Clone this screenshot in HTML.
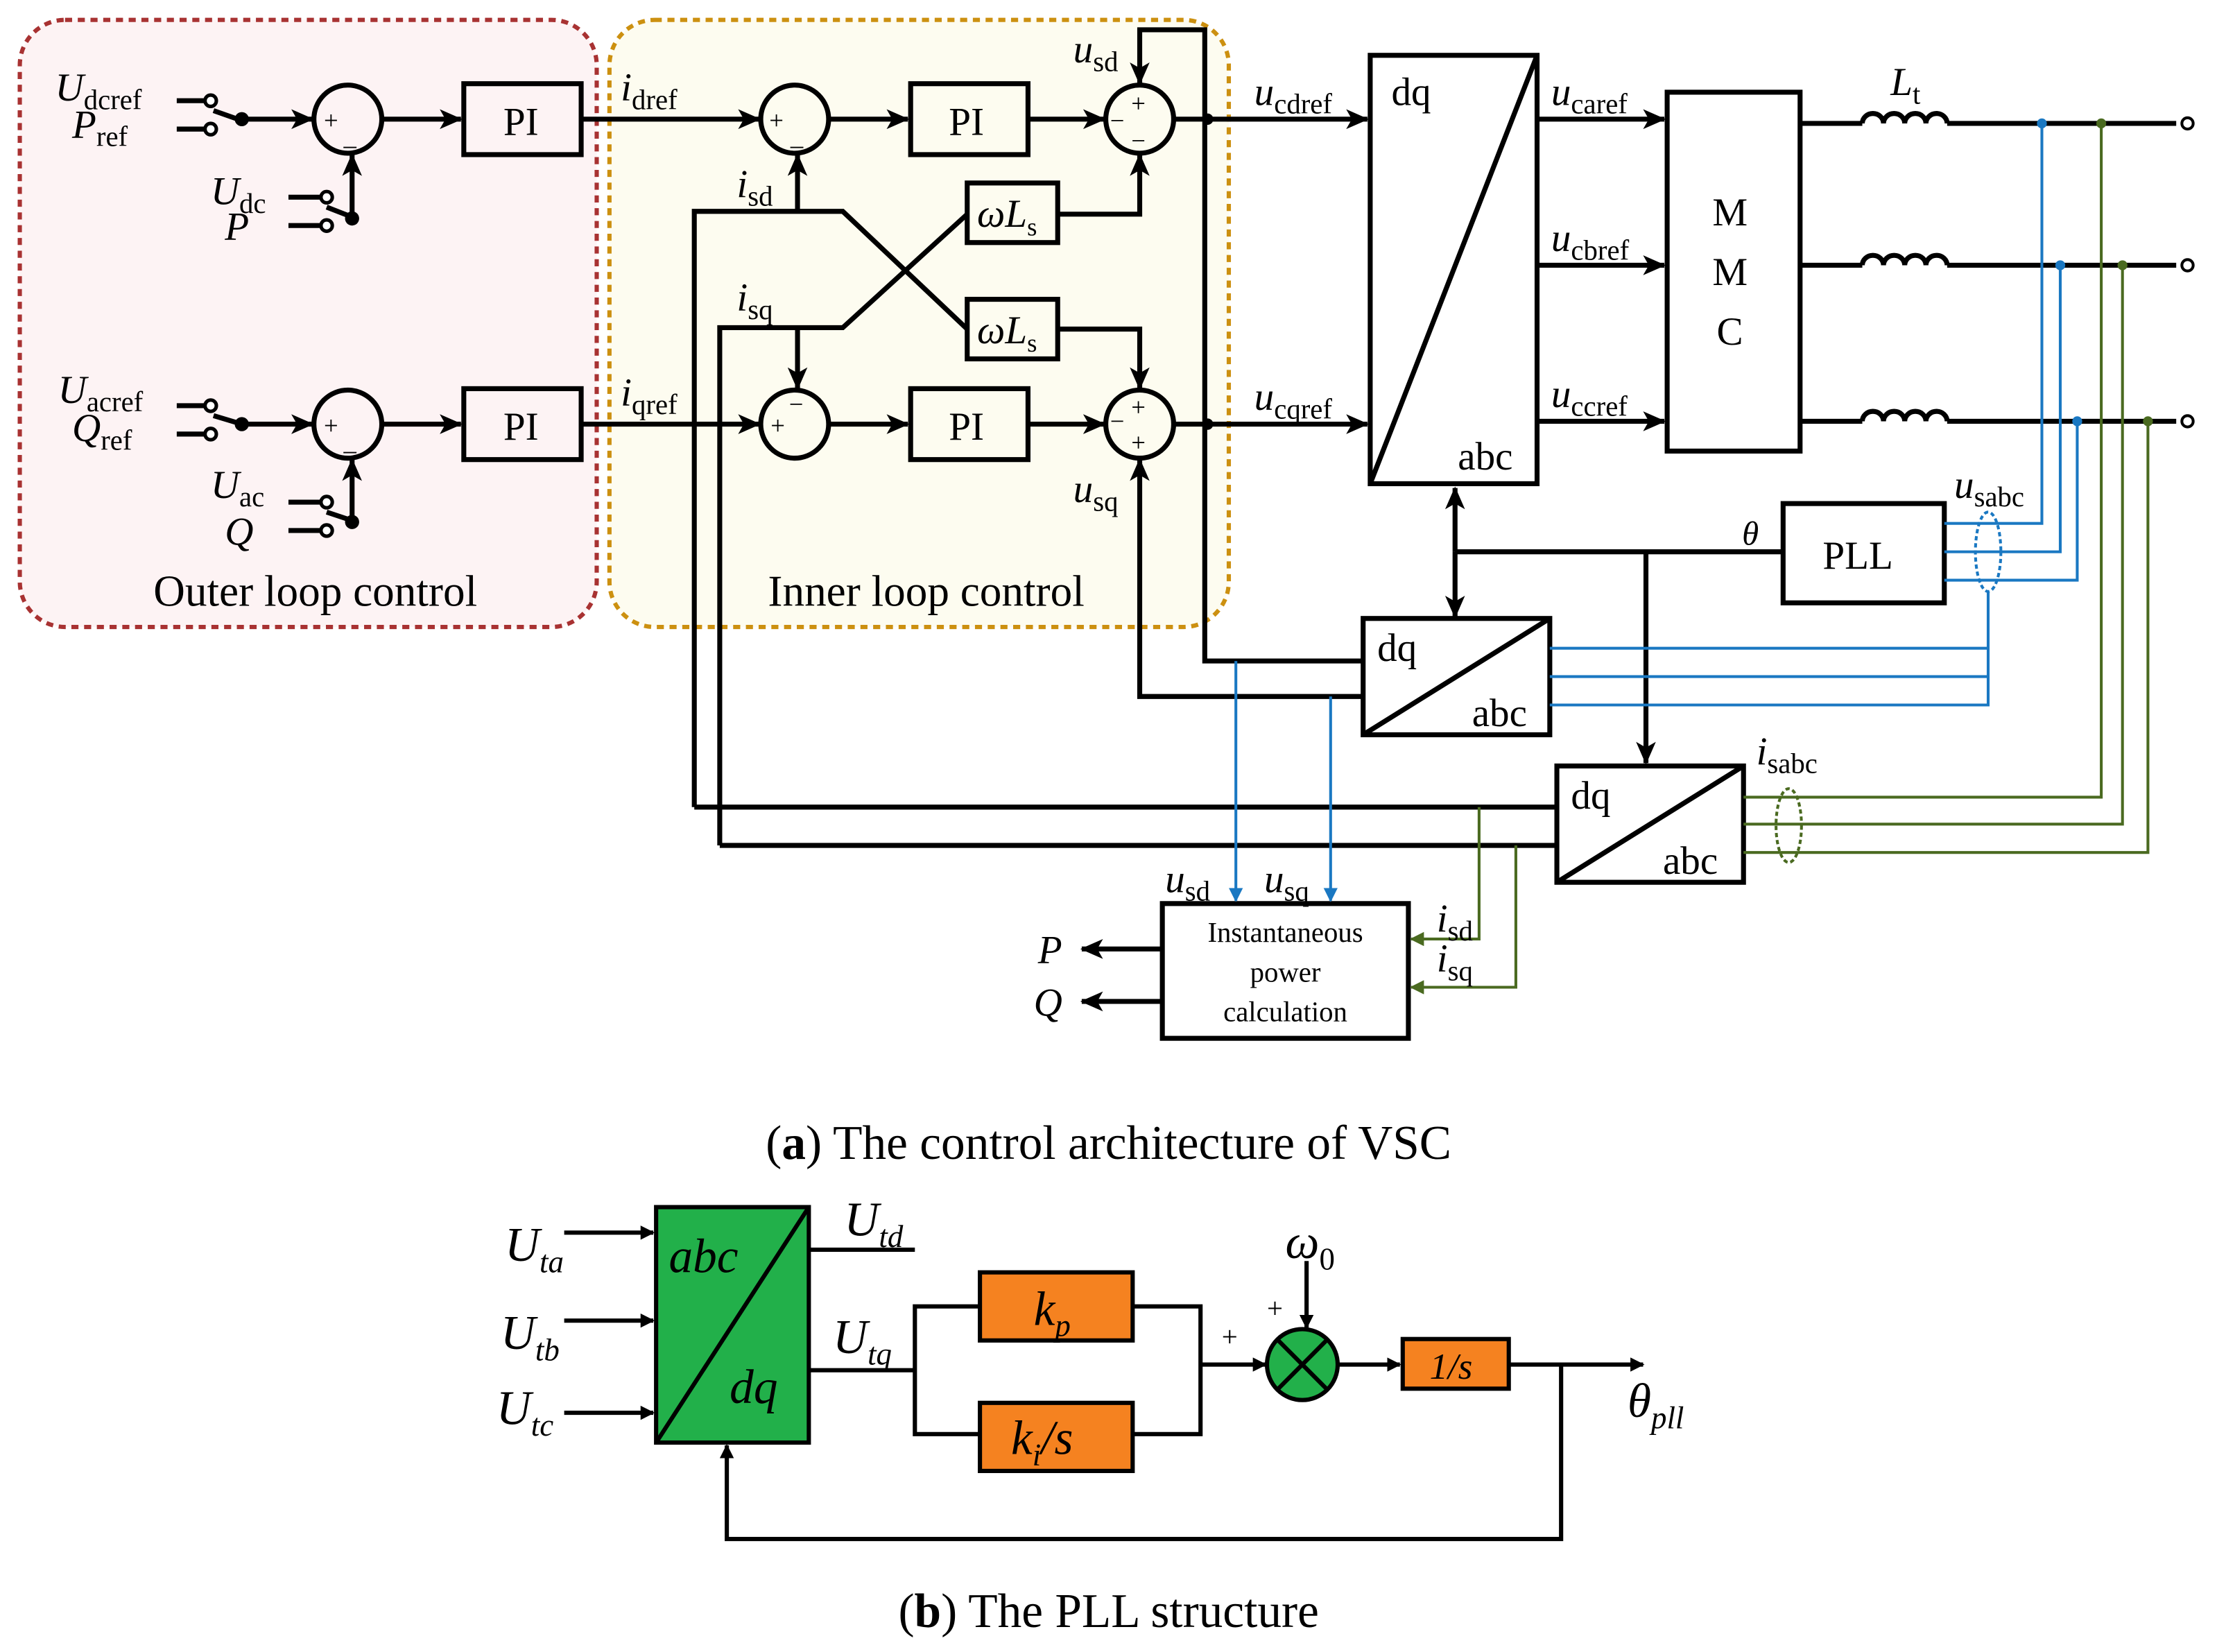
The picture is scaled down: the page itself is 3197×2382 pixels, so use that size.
<!DOCTYPE html>
<html><head><meta charset="utf-8"><style>
html,body{margin:0;padding:0;background:#fff;}
svg{display:block;}
text{font-family:"Liberation Serif",serif;fill:#000;}
.it{font-style:italic;}
</style></head><body>
<svg width="3197" height="2382" viewBox="0 0 1560 1162.3" xmlns="http://www.w3.org/2000/svg">
<defs>
<marker id="a" markerWidth="10" markerHeight="10" refX="9" refY="5" orient="auto" markerUnits="userSpaceOnUse" viewBox="0 0 10 10"><path d="M0,0 L10,5 L0,10 Z" fill="#000"/></marker>
<marker id="ab" markerWidth="16" markerHeight="14" refX="15" refY="7" orient="auto" markerUnits="userSpaceOnUse" viewBox="0 0 16 14"><path d="M0,0 L16,7 L0,14 L4,7 Z" fill="#000"/></marker>
<marker id="bl" markerWidth="10" markerHeight="10" refX="9" refY="5" orient="auto" markerUnits="userSpaceOnUse" viewBox="0 0 10 10"><path d="M0,0 L10,5 L0,10 Z" fill="#1a78c2"/></marker>
<marker id="gr" markerWidth="10" markerHeight="10" refX="9" refY="5" orient="auto" markerUnits="userSpaceOnUse" viewBox="0 0 10 10"><path d="M0,0 L10,5 L0,10 Z" fill="#4a6a20"/></marker>
</defs>
<g transform="translate(-1,-1) scale(0.995,0.998)">

<rect x="15" y="15" width="408" height="428" rx="32" fill="#fdf3f4" stroke="#a83232" stroke-width="3" stroke-dasharray="5,4"/>
<rect x="432" y="15" width="438" height="428" rx="32" fill="#fdfcf0" stroke="#cc9010" stroke-width="3" stroke-dasharray="5,4"/>

<g stroke="#000" stroke-width="3.5" fill="none">
<line x1="126" y1="72" x2="148" y2="72"/><line x1="126" y1="92" x2="148" y2="92"/>
<line x1="152" y1="79" x2="172" y2="86"/>
<line x1="172" y1="85" x2="222" y2="85" marker-end="url(#ab)"/>
<circle cx="247" cy="85" r="24"/>
<line x1="205" y1="140" x2="228" y2="140"/><line x1="205" y1="160" x2="228" y2="160"/>
<line x1="232" y1="147" x2="250" y2="154"/>
<line x1="250" y1="155" x2="250" y2="110" marker-end="url(#ab)"/>
<line x1="271" y1="85" x2="327" y2="85" marker-end="url(#ab)"/>
<rect x="329" y="60" width="83" height="50"/>
<line x1="412" y1="85" x2="538" y2="85" marker-end="url(#ab)"/>
<circle cx="563" cy="85" r="24"/>
<line x1="587" y1="85" x2="643" y2="85" marker-end="url(#ab)"/>
<rect x="645" y="60" width="83" height="50"/>
<line x1="728" y1="85" x2="782" y2="85" marker-end="url(#ab)"/>
<circle cx="807" cy="85" r="24"/>
<line x1="831" y1="85" x2="968" y2="85" marker-end="url(#ab)"/>
<line x1="126" y1="287" x2="148" y2="287"/><line x1="126" y1="307" x2="148" y2="307"/>
<line x1="152" y1="294" x2="172" y2="300"/>
<line x1="172" y1="300" x2="222" y2="300" marker-end="url(#ab)"/>
<circle cx="247" cy="300" r="24"/>
<line x1="205" y1="355" x2="228" y2="355"/><line x1="205" y1="375" x2="228" y2="375"/>
<line x1="232" y1="362" x2="250" y2="368"/>
<line x1="250" y1="369" x2="250" y2="325" marker-end="url(#ab)"/>
<line x1="271" y1="300" x2="327" y2="300" marker-end="url(#ab)"/>
<rect x="329" y="275" width="83" height="50"/>
<line x1="412" y1="300" x2="538" y2="300" marker-end="url(#ab)"/>
<circle cx="563" cy="300" r="24"/>
<line x1="587" y1="300" x2="643" y2="300" marker-end="url(#ab)"/>
<rect x="645" y="275" width="83" height="50"/>
<line x1="728" y1="300" x2="782" y2="300" marker-end="url(#ab)"/>
<circle cx="807" cy="300" r="24"/>
<line x1="831" y1="300" x2="968" y2="300" marker-end="url(#ab)"/>
<rect x="685" y="130" width="64" height="42"/>
<rect x="685" y="212" width="64" height="42"/>
<polyline points="749,152 807,152 807,110" marker-end="url(#ab)"/>
<polyline points="749,233 807,233 807,275" marker-end="url(#ab)"/>
<polyline points="492,570 492,150 597,150 685,233"/>
<polyline points="510,597 510,232 597,232 685,152"/>
<line x1="565" y1="150" x2="565" y2="110" marker-end="url(#ab)"/>
<line x1="565" y1="232" x2="565" y2="275" marker-end="url(#ab)"/>
<polyline points="965,467 853,467 853,22 807,22 807,60" marker-end="url(#ab)"/>
<polyline points="965,492 807,492 807,325" marker-end="url(#ab)"/>
<line x1="492" y1="570" x2="1102" y2="570"/>
<line x1="510" y1="597" x2="1102" y2="597"/>
<rect x="970" y="40" width="118" height="302"/>
<line x1="970" y1="342" x2="1088" y2="40"/>
<line x1="1088" y1="85" x2="1178" y2="85" marker-end="url(#ab)"/>
<line x1="1088" y1="188" x2="1178" y2="188" marker-end="url(#ab)"/>
<line x1="1088" y1="298" x2="1178" y2="298" marker-end="url(#ab)"/>
<rect x="1180" y="66" width="94" height="253"/>
<line x1="1274" y1="88" x2="1318" y2="88"/><line x1="1378" y1="88" x2="1540" y2="88"/>
<line x1="1274" y1="188" x2="1318" y2="188"/><line x1="1378" y1="188" x2="1540" y2="188"/>
<line x1="1274" y1="298" x2="1318" y2="298"/><line x1="1378" y1="298" x2="1540" y2="298"/>
<path d="M1318,88 a7.5,7 0 0 1 15,0 a7.5,7 0 0 1 15,0 a7.5,7 0 0 1 15,0 a7.5,7 0 0 1 15,0"/>
<path d="M1318,188 a7.5,7 0 0 1 15,0 a7.5,7 0 0 1 15,0 a7.5,7 0 0 1 15,0 a7.5,7 0 0 1 15,0"/>
<path d="M1318,298 a7.5,7 0 0 1 15,0 a7.5,7 0 0 1 15,0 a7.5,7 0 0 1 15,0 a7.5,7 0 0 1 15,0"/>
<rect x="1262" y="356" width="114" height="70"/>
<line x1="1262" y1="390" x2="1030" y2="390"/>
<line x1="1030" y1="390" x2="1030" y2="345" marker-end="url(#ab)"/>
<line x1="1030" y1="390" x2="1030" y2="436" marker-end="url(#ab)"/>
<line x1="1165" y1="390" x2="1165" y2="539" marker-end="url(#ab)"/>
<rect x="965" y="437" width="132" height="82"/>
<line x1="965" y1="519" x2="1097" y2="437"/>
<rect x="1102" y="541" width="132" height="82"/>
<line x1="1102" y1="623" x2="1234" y2="541"/>
<rect x="823" y="638" width="174" height="95"/>
<line x1="823" y1="670" x2="766" y2="670" marker-end="url(#ab)"/>
<line x1="823" y1="707" x2="766" y2="707" marker-end="url(#ab)"/>
</g>
<g fill="#000">
<circle cx="150" cy="72" r="4" fill="#fff" stroke="#000" stroke-width="2.5"/><circle cx="150" cy="92" r="4" fill="#fff" stroke="#000" stroke-width="2.5"/>
<circle cx="172" cy="85" r="5"/>
<circle cx="232" cy="140" r="4" fill="#fff" stroke="#000" stroke-width="2.5"/><circle cx="232" cy="160" r="4" fill="#fff" stroke="#000" stroke-width="2.5"/>
<circle cx="250" cy="155" r="5"/>
<circle cx="150" cy="287" r="4" fill="#fff" stroke="#000" stroke-width="2.5"/><circle cx="150" cy="307" r="4" fill="#fff" stroke="#000" stroke-width="2.5"/>
<circle cx="172" cy="300" r="5"/>
<circle cx="232" cy="355" r="4" fill="#fff" stroke="#000" stroke-width="2.5"/><circle cx="232" cy="375" r="4" fill="#fff" stroke="#000" stroke-width="2.5"/>
<circle cx="250" cy="369" r="5"/>
<circle cx="855" cy="85" r="4"/><circle cx="855" cy="300" r="4"/>
<circle cx="1548" cy="88" r="4" fill="#fff" stroke="#000" stroke-width="2"/>
<circle cx="1548" cy="188" r="4" fill="#fff" stroke="#000" stroke-width="2"/>
<circle cx="1548" cy="298" r="4" fill="#fff" stroke="#000" stroke-width="2"/>
</g>
<g stroke="#1a78c2" stroke-width="2" fill="none">
<polyline points="1445,88 1445,370 1376,370"/>
<polyline points="1458,188 1458,390 1376,390"/>
<polyline points="1470,298 1470,410 1376,410"/>
<ellipse cx="1407" cy="390" rx="9" ry="28" stroke-dasharray="3,2"/>
<polyline points="1407,418 1407,498 1097,498"/>
<line x1="1097" y1="458" x2="1407" y2="458"/>
<line x1="1097" y1="478" x2="1407" y2="478"/>
<line x1="875" y1="467" x2="875" y2="636" marker-end="url(#bl)"/>
<line x1="942" y1="492" x2="942" y2="636" marker-end="url(#bl)"/>
</g>
<g fill="#1a78c2"><circle cx="1445" cy="88" r="3.5"/><circle cx="1458" cy="188" r="3.5"/><circle cx="1470" cy="298" r="3.5"/></g>
<g stroke="#4a6a20" stroke-width="2" fill="none">
<polyline points="1487,88 1487,563 1234,563"/>
<polyline points="1502,188 1502,582 1234,582"/>
<polyline points="1520,298 1520,602 1234,602"/>
<ellipse cx="1266" cy="583" rx="9" ry="26" stroke-dasharray="3,2"/>
<polyline points="1047,570 1047,663 999,663" marker-end="url(#gr)"/>
<polyline points="1073,597 1073,697 999,697" marker-end="url(#gr)"/>
</g>
<g fill="#4a6a20"><circle cx="1487" cy="88" r="3.5"/><circle cx="1502" cy="188" r="3.5"/><circle cx="1520" cy="298" r="3.5"/></g>

<g font-size="28">
<text x="40" y="72" class="it">U<tspan font-size="20" font-style="normal" dy="6">dcref</tspan></text>
<text x="52" y="98" class="it">P<tspan font-size="20" font-style="normal" dy="6">ref</tspan></text>
<text x="150" y="145" class="it">U<tspan font-size="20" font-style="normal" dy="6">dc</tspan></text>
<text x="160" y="170" class="it">P</text>
<text x="42" y="285" class="it">U<tspan font-size="20" font-style="normal" dy="6">acref</tspan></text>
<text x="52" y="312" class="it">Q<tspan font-size="20" font-style="normal" dy="6">ref</tspan></text>
<text x="150" y="352" class="it">U<tspan font-size="20" font-style="normal" dy="6">ac</tspan></text>
<text x="160" y="385" class="it">Q</text>
<text x="357" y="96">PI</text><text x="357" y="311">PI</text>
<text x="672" y="96">PI</text><text x="672" y="311">PI</text>
<text x="440" y="72" class="it">i<tspan font-size="20" font-style="normal" dy="6">dref</tspan></text>
<text x="440" y="287" class="it">i<tspan font-size="20" font-style="normal" dy="6">qref</tspan></text>
<text x="522" y="140" class="it">i<tspan font-size="20" font-style="normal" dy="6">sd</tspan></text>
<text x="522" y="220" class="it">i<tspan font-size="20" font-style="normal" dy="6">sq</tspan></text>
<text x="760" y="45" class="it">u<tspan font-size="20" font-style="normal" dy="6">sd</tspan></text>
<text x="760" y="355" class="it">u<tspan font-size="20" font-style="normal" dy="6">sq</tspan></text>
<text x="888" y="75" class="it">u<tspan font-size="20" font-style="normal" dy="6">cdref</tspan></text>
<text x="888" y="290" class="it">u<tspan font-size="20" font-style="normal" dy="6">cqref</tspan></text>
<text x="1098" y="75" class="it">u<tspan font-size="20" font-style="normal" dy="6">caref</tspan></text>
<text x="1098" y="178" class="it">u<tspan font-size="20" font-style="normal" dy="6">cbref</tspan></text>
<text x="1098" y="288" class="it">u<tspan font-size="20" font-style="normal" dy="6">ccref</tspan></text>
<text x="1338" y="68" class="it">L<tspan font-size="20" font-style="normal" dy="6">t</tspan></text>
<text x="1383" y="352" class="it">u<tspan font-size="20" font-style="normal" dy="6">sabc</tspan></text>
<text x="1243" y="540" class="it">i<tspan font-size="20" font-style="normal" dy="6">sabc</tspan></text>
<text x="1233" y="385" class="it" font-size="24">θ</text>
<text x="985" y="75">dq</text><text x="1032" y="332">abc</text>
<text x="1212" y="160">M</text><text x="1212" y="202">M</text><text x="1215" y="244">C</text>
<text x="1290" y="402">PLL</text>
<text x="975" y="467">dq</text><text x="1042" y="513">abc</text>
<text x="1112" y="571">dq</text><text x="1177" y="617">abc</text>
<text x="825" y="630" class="it">u<tspan font-size="20" font-style="normal" dy="6">sd</tspan></text>
<text x="895" y="630" class="it">u<tspan font-size="20" font-style="normal" dy="6">sq</tspan></text>
<text x="1017" y="658" class="it">i<tspan font-size="20" font-style="normal" dy="6">sd</tspan></text>
<text x="1017" y="686" class="it">i<tspan font-size="20" font-style="normal" dy="6">sq</tspan></text>
<text x="735" y="680" class="it">P</text>
<text x="732" y="717" class="it">Q</text>
<text x="692" y="161" class="it">ωL<tspan font-size="18" font-style="normal" dy="6">s</tspan></text>
<text x="692" y="243" class="it">ωL<tspan font-size="18" font-style="normal" dy="6">s</tspan></text>
</g>
<g font-size="18">
<text x="230" y="92">+</text><text x="244" y="103">_</text>
<text x="230" y="307">+</text><text x="244" y="318">_</text>
<text x="545" y="92">+</text><text x="560" y="103">_</text>
<text x="546" y="307">+</text><text x="559" y="292">−</text>
<text x="801" y="80">+</text><text x="786" y="92">−</text><text x="801" y="106">−</text>
<text x="801" y="294">+</text><text x="786" y="304">−</text><text x="801" y="319">+</text>
</g>
<g font-size="20" text-anchor="middle">
<text x="910" y="665">Instantaneous</text><text x="910" y="693">power</text><text x="910" y="721">calculation</text>
</g>
<text x="224" y="428" font-size="31" text-anchor="middle">Outer loop control</text>
<text x="656" y="428" font-size="31" text-anchor="middle">Inner loop control</text>
<text x="785" y="818" font-size="34" text-anchor="middle">(<tspan font-weight="bold">a</tspan>) The control architecture of VSC</text>

<g stroke="#000" stroke-width="3" fill="none">
<rect x="465" y="852" width="108" height="166" fill="#22b04a"/>
<line x1="465" y1="1018" x2="573" y2="852"/>
<line x1="400" y1="870" x2="463" y2="870" marker-end="url(#a)"/>
<line x1="400" y1="932" x2="463" y2="932" marker-end="url(#a)"/>
<line x1="400" y1="997" x2="463" y2="997" marker-end="url(#a)"/>
<line x1="573" y1="882" x2="648" y2="882"/>
<line x1="573" y1="967" x2="648" y2="967"/>
<polyline points="694,922 648,922 648,1012 694,1012"/>
<rect x="694" y="898" width="108" height="48" fill="#f58220"/>
<rect x="694" y="990" width="108" height="48" fill="#f58220"/>
<polyline points="802,922 850,922 850,1012 802,1012"/>
<line x1="850" y1="963" x2="896" y2="963" marker-end="url(#a)"/>
<circle cx="922" cy="963" r="25" fill="#22b04a"/>
<line x1="904" y1="945" x2="940" y2="981"/><line x1="940" y1="945" x2="904" y2="981"/>
<line x1="925" y1="890" x2="925" y2="937" marker-end="url(#a)"/>
<line x1="947" y1="963" x2="991" y2="963" marker-end="url(#a)"/>
<rect x="993" y="945" width="75" height="35" fill="#f58220"/>
<line x1="1068" y1="963" x2="1163" y2="963" marker-end="url(#a)"/>
<polyline points="1105,963 1105,1086 515,1086 515,1020" marker-end="url(#a)"/>
</g>
<g font-size="34" class="it">
<text x="358" y="890" class="it">U<tspan font-size="22" dy="8">ta</tspan></text>
<text x="355" y="952" class="it">U<tspan font-size="22" dy="8">tb</tspan></text>
<text x="352" y="1005" class="it">U<tspan font-size="22" dy="8">tc</tspan></text>
<text x="598" y="872" class="it">U<tspan font-size="22" dy="8">td</tspan></text>
<text x="590" y="955" class="it">U<tspan font-size="22" dy="8">tq</tspan></text>
<text x="474" y="898" class="it">abc</text>
<text x="517" y="990" class="it">dq</text>
<text x="732" y="935" class="it">k<tspan font-size="22" dy="8">p</tspan></text>
<text x="716" y="1026" class="it">k<tspan font-size="22" dy="8">i</tspan><tspan dy="-8">/s</tspan></text>
<text x="910" y="888" class="it">ω<tspan font-size="22" dy="8" font-style="normal">0</tspan></text>
<text x="1152" y="1000" class="it">θ<tspan font-size="22" dy="8">pll</tspan></text>
</g>
<text x="1012" y="973" font-size="26" class="it">1/s</text>
<text x="897" y="930" font-size="20">+</text>
<text x="865" y="950" font-size="20">+</text>
<text x="785" y="1148" font-size="34" text-anchor="middle">(<tspan font-weight="bold">b</tspan>) The PLL structure</text>
</g>
</svg>
</body></html>
